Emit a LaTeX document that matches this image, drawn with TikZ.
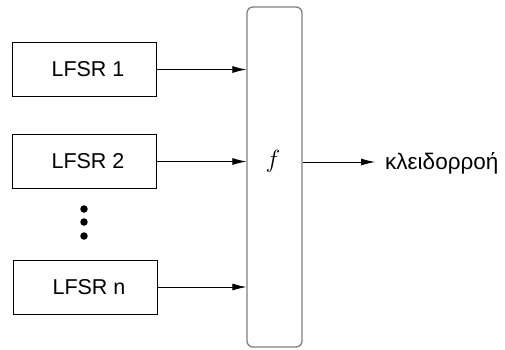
\documentclass[tikz,border=0pt]{standalone}
\usepackage{fontspec}
\setmainfont{Liberation Sans}
\usetikzlibrary{arrows.meta}
\begin{document}
\begin{tikzpicture}[x=1pt,y=-1pt,
  lfsr/.style={draw=black,line width=0.9pt,minimum width=144pt,minimum height=54pt,inner sep=0pt,font=\fontsize{21.5}{24}\selectfont},
  combiner/.style={draw=black!50,line width=1.3pt,rounded corners=6pt,minimum width=55pt,minimum height=340pt,inner sep=0pt},
  feed/.style={line width=0.8pt,-{Latex[length=14pt,width=7pt]}},
  dot/.style={circle,fill=black,inner sep=0pt,minimum size=7.5pt}]
  \useasboundingbox (0,0) rectangle (505,349);
  % three shift registers
  \node[lfsr] (r1) at (84,69.5) {\hspace{8pt}LFSR 1};
  \node[lfsr] (r2) at (84,161.5) {\hspace{8pt}LFSR 2};
  \node[lfsr] (rn) at (85,287) {\hspace{8pt}LFSR n};
  % ellipsis between register 2 and register n
  \node[dot] (d1) at (84,209) {};
  \node[dot] (d2) at (84,222) {};
  \node[dot] (d3) at (84,236) {};
  % combining function
  \node[combiner] (f) at (274.5,177) {};
  \node[font=\fontsize{25}{28}\selectfont] (flab) at (273,161) {$f$};
  % output
  \coordinate (out) at (375,162);
  \node[anchor=west,font=\fontsize{22.5}{26}\selectfont,inner sep=0pt] (ks) at (385,163) {κλειδορροή};
  \draw[feed] (r1.east) -- (r1.east -| f.west);
  \draw[feed] (r2.east) -- (r2.east -| f.west);
  \draw[feed] (rn.east) -- (rn.east -| f.west);
  \draw[feed] (f.east |- out) -- (out);
\end{tikzpicture}
\end{document}
